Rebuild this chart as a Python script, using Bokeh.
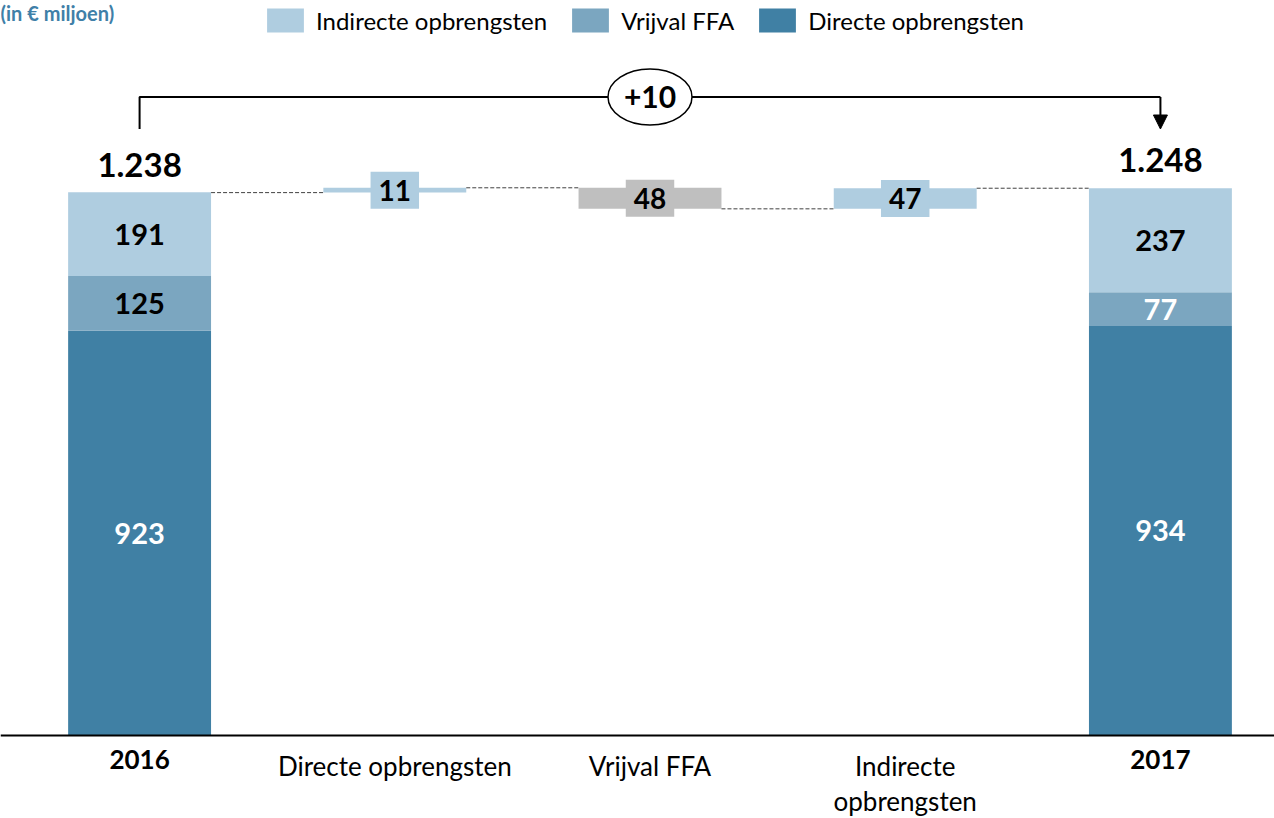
from bokeh.plotting import figure
from bokeh.models import Range1d, Span, Arrow, NormalHead, Legend, LegendItem, Label, ColumnDataSource
from bokeh.core.properties import value
from bokeh.embed import file_html
from bokeh.resources import INLINE

# ---------------- data ----------------
categories = ["2016", "Directe opbrengsten", "Vrijval FFA", "Indirecte\nopbrengsten", "2017"]
bold_categories = ["2016", "2017"]
directe = [923, 934]
vrijval = [125, 77]
indirecte = [191, 237]
totals = [1238, 1248]
changes = [11, -48, 47]
change_labels = ["11", "48", "47"]
total_change_label = "+10"
title_text = "(in € miljoen)"
legend_labels = ["Indirecte opbrengsten", "Vrijval FFA", "Directe opbrengsten"]

# ---------------- styles ----------------
LIGHT = "#AFCDE0"
MID = "#7BA6C0"
DARK = "#4080A4"
GREY = "#BFBFBF"
TEAL = "#3F80A8"
FONT = "Lato"
BAR_W = 0.56

p = figure(width=1274, height=818,
           x_range=Range1d(-0.545, 4.447), y_range=Range1d(-189, 1676),
           output_backend="svg", toolbar_location=None,
           x_axis_location=None, y_axis_location=None, min_border=0)
p.grid.visible = False
p.outline_line_color = None
p.background_fill_color = "white"

# ---------------- stacked total bars ----------------
x_tot = [0, len(categories) - 1]
vri_top = [d + v for d, v in zip(directe, vrijval)]
ind_top = [t + i for t, i in zip(vri_top, indirecte)]
r_dir = p.vbar(x=x_tot, bottom=0, top=directe, width=BAR_W, fill_color=DARK, line_color=None)
r_vri = p.vbar(x=x_tot, bottom=directe, top=vri_top, width=BAR_W, fill_color=MID, line_color=None)
r_ind = p.vbar(x=x_tot, bottom=vri_top, top=ind_top, width=BAR_W, fill_color=LIGHT, line_color=None)

seg_src = ColumnDataSource(dict(
    x=x_tot * 3,
    y=[d / 2 for d in directe] + [(a + b) / 2 for a, b in zip(directe, vri_top)]
      + [(a + b) / 2 for a, b in zip(vri_top, ind_top)],
    text=[str(v) for v in directe + vrijval + indirecte],
    color=["white", "white", "black", "white", "black", "black"],
))
p.text(x="x", y="y", text="text", source=seg_src, text_color="color",
       text_font=value(FONT), text_font_style="bold", text_font_size="29px",
       text_align="center", text_baseline="middle")

# ---------------- waterfall bars ----------------
levels = [totals[0]]
for c in changes:
    levels.append(levels[-1] + c)
x_chg = list(range(1, len(changes) + 1))
bottoms = [min(levels[i], levels[i + 1]) for i in range(len(changes))]
tops = [max(levels[i], levels[i + 1]) for i in range(len(changes))]
chg_colors = [LIGHT if c > 0 else GREY for c in changes]
p.vbar(x=x_chg, bottom=bottoms, top=tops, width=BAR_W, fill_color=chg_colors, line_color=None)

# connectors
p.segment(x0=[i + BAR_W / 2 for i in range(len(levels))],
          y0=levels,
          x1=[i + 1 - BAR_W / 2 for i in range(len(levels))],
          y1=levels, line_color="#404040", line_width=1, line_dash="4 2")

chg_src = ColumnDataSource(dict(x=x_chg, y=[(a + b) / 2 for a, b in zip(bottoms, tops)],
                                text=change_labels, bg=chg_colors))
p.text(x="x", y="y", text="text", source=chg_src, text_color="black",
       text_font=value(FONT), text_font_style="bold", text_font_size="28px",
       text_align="center", text_baseline="middle",
       background_fill_color="bg", padding=8)

# ---------------- totals ----------------
p.text(x=x_tot, y=totals, text=[f"{t:,}".replace(",", ".") for t in totals],
       text_font=value(FONT), text_font_style="bold", text_font_size="33px",
       text_align="center", text_baseline="bottom", y_offset=-16, text_color="black")

# ---------------- bracket ----------------
b_low = max(totals) + 135
b_high = max(totals) + 208
p.line(x=[x_tot[0], x_tot[0], x_tot[1]], y=[b_low, b_high, b_high], line_color="black", line_width=2)
p.add_layout(Arrow(end=NormalHead(size=14, fill_color="black", line_color="black"),
                   x_start=x_tot[1], y_start=b_high, x_end=x_tot[1], y_end=b_low,
                   line_color="black", line_width=2))
mid_x = (x_tot[0] + x_tot[1]) / 2
p.ellipse(x=[mid_x], y=[b_high], width=84, height=56, width_units="screen", height_units="screen",
          fill_color="white", line_color="black", line_width=1.5)
p.text(x=[mid_x], y=[b_high], text=[total_change_label], text_font=value(FONT), text_font_style="bold",
       text_font_size="30px", text_align="center", text_baseline="middle", text_color="black")

# ---------------- baseline ----------------
p.add_layout(Span(location=0, dimension="width", line_color="black", line_width=2))

# ---------------- category labels ----------------
normal_x = [i for i, c in enumerate(categories) if c not in bold_categories]
bold_x = [i for i, c in enumerate(categories) if c in bold_categories]
p.text(x=normal_x, y=0, text=[categories[i] for i in normal_x], y_offset=14,
       text_font=value(FONT), text_font_size="26px", text_align="center", text_baseline="top",
       text_line_height=1.1, text_color="black")
p.text(x=bold_x, y=0, text=[categories[i] for i in bold_x], y_offset=14,
       text_font=value(FONT), text_font_style="bold", text_font_size="26px",
       text_align="center", text_baseline="top", text_color="black")

# ---------------- legend ----------------
legend = Legend(items=[LegendItem(label=legend_labels[0], renderers=[r_ind]),
                       LegendItem(label=legend_labels[1], renderers=[r_vri]),
                       LegendItem(label=legend_labels[2], renderers=[r_dir])],
                orientation="horizontal", location=(262, 783),
                glyph_width=46, glyph_height=30, spacing=20, label_standoff=8,
                padding=0, margin=0, border_line_color=None, background_fill_alpha=0,
                label_text_font=FONT, label_text_font_size="24px", label_text_color="black",
                label_height=30)
p.add_layout(legend)

# ---------------- title ----------------
p.add_layout(Label(x=0, y=818, x_units="screen", y_units="screen", text=title_text,
                   text_font=FONT, text_font_style="bold", text_font_size="20px",
                   text_color=TEAL, text_baseline="top"))

open("out.html", "w").write(file_html(p, INLINE))
